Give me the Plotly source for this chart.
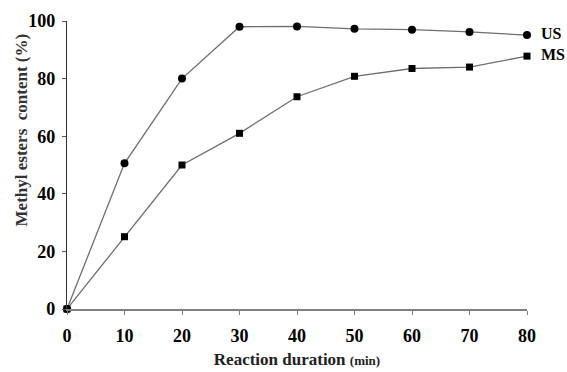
import plotly.graph_objects as go

time_min = [0, 10, 20, 30, 40, 50, 60, 70, 80]
us_values = [0, 50.6, 80.0, 98.0, 98.1, 97.3, 97.0, 96.2, 95.1]
ms_values = [0, 25.1, 50.0, 61.0, 73.7, 80.8, 83.5, 84.0, 87.8]
x_ticks = [0, 10, 20, 30, 40, 50, 60, 70, 80]
y_ticks = [0, 20, 40, 60, 80, 100]
series_names = ["US", "MS"]

FONT = "Liberation Serif"

fig = go.Figure()
fig.add_trace(go.Scatter(
    x=time_min, y=us_values, mode="lines+markers", name=series_names[0],
    line=dict(color="#6e6e6e", width=1.3),
    marker=dict(symbol="circle", size=8, color="black"),
    cliponaxis=False,
))
fig.add_trace(go.Scatter(
    x=time_min, y=ms_values, mode="lines+markers", name=series_names[1],
    line=dict(color="#6e6e6e", width=1.3),
    marker=dict(symbol="square", size=7, color="black"),
    cliponaxis=False,
))

for name, vals in zip(series_names, [us_values, ms_values]):
    fig.add_annotation(
        x=time_min[-1], y=vals[-1], text="<b>%s</b>" % name,
        showarrow=False, xanchor="left", yanchor="middle",
        xshift=12, yshift=2,
        font=dict(family=FONT, size=16, color="black"),
    )

# y-axis title (placed slightly above centre, as in the original)
fig.add_annotation(
    xref="paper", yref="paper", x=-0.1, y=0.62,
    text="<b>Methyl esters  content (%)</b>", textangle=-90,
    showarrow=False, xanchor="center", yanchor="middle",
    font=dict(family=FONT, size=17, color="#333"),
)

fig.update_layout(
    width=567, height=372,
    margin=dict(l=67, r=40, t=21, b=63),
    paper_bgcolor="white", plot_bgcolor="white",
    showlegend=False,
    font=dict(family=FONT, color="black"),
    xaxis=dict(
        range=[0, 80], tickvals=x_ticks, ticktext=["<b>%d</b>" % v for v in x_ticks],
        showgrid=False, zeroline=False, showline=True, linecolor="#808080", linewidth=1.5,
        ticks="outside", ticklen=4, tickcolor="#808080", tickwidth=1,
        ticklabelstandoff=6, automargin=False,
        tickfont=dict(family=FONT, size=18, color="black"),
        title=dict(text="<b>Reaction duration <span style='font-size:13px'>(min)</span></b>",
                   font=dict(family=FONT, size=17, color="#222"), standoff=8),
    ),
    yaxis=dict(
        range=[0, 100], tickvals=y_ticks, ticktext=["<b>%d</b>" % v for v in y_ticks],
        showgrid=False, zeroline=False, showline=True, linecolor="#333", linewidth=1.3,
        ticks="outside", ticklen=4, tickcolor="#555", tickwidth=1,
        ticklabelstandoff=3, automargin=False,
        tickfont=dict(family=FONT, size=18, color="black"),
    ),
)

fig.write_html("out.html")
